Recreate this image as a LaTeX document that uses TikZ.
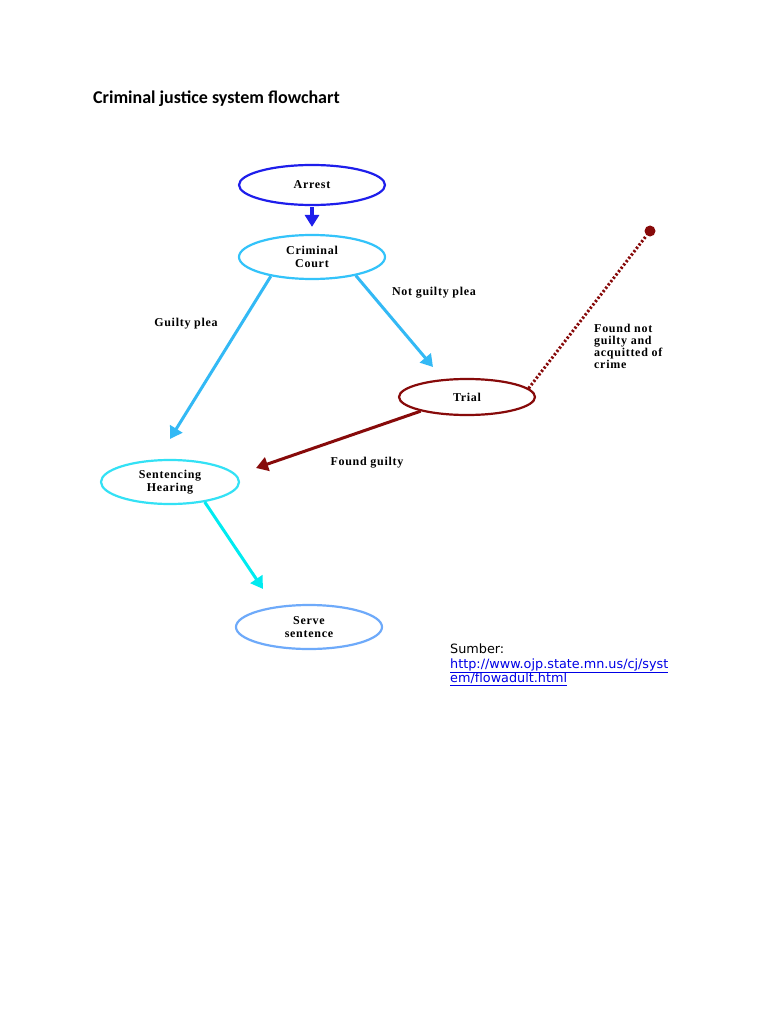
\documentclass[tikz,border=0pt]{standalone}
\usepackage{fontspec}
\setmainfont{Liberation Serif}
\newfontfamily\titlefont{Carlito}
\newfontfamily\srcfont{DejaVu Sans}
\newfontfamily\dfont[LetterSpace=6]{Liberation Serif}
\usetikzlibrary{shapes.geometric,arrows.meta}
\definecolor{arrblue}{RGB}{30,30,235}
\definecolor{crtblue}{RGB}{51,195,250}
\definecolor{gpblue}{RGB}{51,185,245}
\definecolor{trialred}{RGB}{135,10,10}
\definecolor{sentcyan}{RGB}{51,225,245}
\definecolor{arrcyan}{RGB}{0,235,240}
\definecolor{servblue}{RGB}{110,170,250}
\definecolor{linkblue}{RGB}{0,0,230}
\tikzset{
  stage/.style={ellipse, draw, line width=2.2pt, inner sep=0pt, align=center,
     font=\dfont\bfseries\fontsize{12}{13}\selectfont},
  lbl/.style={inner sep=0pt, align=left, font=\dfont\bfseries\fontsize{12}{12}\selectfont},
  conn/.style={line width=3pt, -{Triangle[width=14pt,length=12pt]}},
}
\begin{document}
\begin{tikzpicture}[x=1pt,y=-1pt]
\useasboundingbox[fill=white] (0,0) rectangle (768,1024);
\node[anchor=base west, inner sep=0pt, font=\titlefont\bfseries\fontsize{18}{21}\selectfont] (title) at (93,104) {Criminal justice system flowchart};

\node[stage, draw=arrblue, minimum width=146pt, minimum height=40pt] (arr) at (312,185) {Arrest};
\node[stage, draw=crtblue, minimum width=146pt, minimum height=44pt] (crt) at (312,257) {Criminal\\Court};
\node[stage, draw=trialred, minimum width=136pt, minimum height=36pt] (trial) at (467,397) {Trial};
\node[stage, draw=sentcyan, minimum width=138pt, minimum height=44pt] (sent) at (170,482) {Sentencing\\Hearing};
\node[stage, draw=servblue, minimum width=146pt, minimum height=44pt] (serv) at (309,627) {Serve\\sentence};
\node[circle, fill=trialred, inner sep=0pt, minimum size=11pt] (dot) at (650,231) {};

\coordinate (gpEnd) at (170,439);
\coordinate (ngEnd) at (433,367);
\coordinate (fgEnd) at (256,468);
\coordinate (ssEnd) at (263,589);

\draw[arrblue, line width=3.5pt, -{Triangle[width=14pt,length=12pt]}, shorten >=7pt, shorten <=1pt] (arr.south) -- (crt.north);
\draw[conn, gpblue] (crt.205) -- (gpEnd);
\draw[conn, gpblue] (crt.337) -- (ngEnd);
\draw[conn, trialred] (trial.197) -- (fgEnd);
\draw[conn, arrcyan] (sent.330) -- (ssEnd);
\draw[trialred, line width=3pt, dash pattern=on 2.2pt off 2pt] (trial.8) -- (dot);

\node[lbl] (lgp) at (186,324) {Guilty plea};
\node[lbl] (lng) at (434,293) {Not guilty plea};
\node[lbl] (lfg) at (367,463) {Found guilty};
\node[lbl, anchor=north west] (lnf) at (594,324) {Found not\\guilty and\\acquitted of\\crime};

\node[anchor=north west, inner sep=0pt, align=left, font=\srcfont\fontsize{12.8}{14.5}\selectfont] (src) at (450,644)
  {Sumber:\\\textcolor{linkblue}{\underline{http://www.ojp.state.mn.us/cj/syst}}\\\textcolor{linkblue}{\underline{em/flowadult.html}}};
\end{tikzpicture}
\end{document}
